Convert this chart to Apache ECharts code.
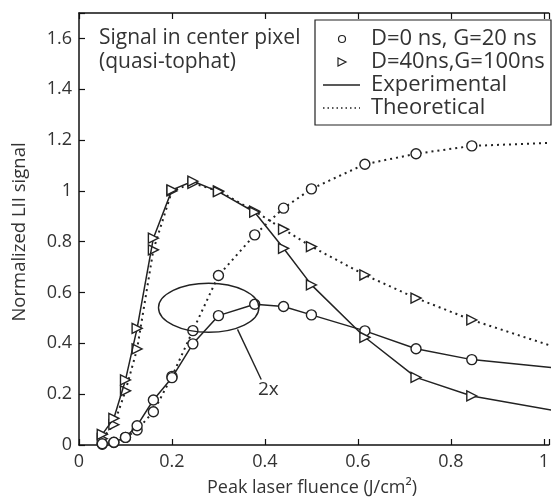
<!DOCTYPE html>
<html><head><meta charset="utf-8">
<script src="https://cdn.jsdelivr.net/npm/echarts@6/dist/echarts.min.js"></script>
<style>html,body{margin:0;padding:0;background:#fff}#c{width:552px;height:501px}</style>
</head><body><div id="c"></div>
<script>
// Data
const fluence    = [0.05, 0.075, 0.1, 0.125, 0.16, 0.2, 0.245, 0.3, 0.378, 0.44, 0.5, 0.615, 0.725, 0.845, 1.1];
const circleExp  = [0.005, 0.011, 0.03, 0.076, 0.177, 0.265, 0.398, 0.509, 0.554, 0.545, 0.512, 0.449, 0.379, 0.336, 0.29];
const circleTheo = [0.003, 0.01, 0.03, 0.059, 0.131, 0.27, 0.45, 0.667, 0.827, 0.932, 1.008, 1.105, 1.146, 1.177, 1.195];
const triExp     = [0.042, 0.105, 0.256, 0.459, 0.814, 1.004, 1.038, 0.997, 0.916, 0.774, 0.63, 0.424, 0.266, 0.193, 0.11];
const triTheo    = [0.025, 0.08, 0.213, 0.378, 0.768, 1.0, 1.03, 1.0, 0.92, 0.849, 0.781, 0.669, 0.578, 0.492, 0.34];
const xTicks = [0, 0.2, 0.4, 0.6, 0.8, 1];
const yTicks = [0, 0.2, 0.4, 0.6, 0.8, 1, 1.2, 1.4, 1.6];
const legendLabels = ['D=0 ns, G=20 ns', 'D=40ns,G=100ns', 'Experimental', 'Theoretical'];
const xName = 'Peak laser fluence (J/cm²)';
const yName = 'Normalized LII signal';
const noteText = 'Signal in center pixel\n(quasi-tophat)';
const calloutText = '2x';
// ellipse annotation in data units: [cx, cy, rx, ry]
const ellipseData = [0.279, 0.54, 0.108, 0.0965];
const leaderData = [[0.341, 0.455], [0.392, 0.258]];
const calloutPos = [0.385, 0.22];

const FONT = '"Open Sans", sans-serif';
const INK = '#222';
const pairs = ys => fluence.map((x, i) => [x, ys[i]]);

const chart = echarts.init(document.getElementById('c'), null, {renderer: 'canvas'});
const X_MAX = 1.0107; // the reference crops the plot just past x = 1
const axisCommon = {
  type: 'value', min: 0, max: X_MAX, interval: 0.2,
  axisLine: {show: true, lineStyle: {color: '#111', width: 1.5}},
  axisTick: {show: true, inside: true, length: 6, lineStyle: {color: '#111', width: 1.2}},
  splitLine: {show: false}
};
const circleSym = {symbol: 'circle', symbolSize: 10, itemStyle: {color: '#fff', borderColor: INK, borderWidth: 1.4}};
const triSym = {symbol: 'triangle', symbolSize: [10, 10], symbolRotate: -90, itemStyle: {color: '#fff', borderColor: INK, borderWidth: 1.4}};
const solid = {color: INK, width: 1.5, type: 'solid'};
const dotted = {color: INK, width: 2, type: [2, 4]};

chart.setOption({
  animation: false,
  grid: {left: 79, top: 13, right: 0, bottom: 56, containLabel: false},
  xAxis: [
    Object.assign({}, axisCommon, {position: 'bottom',
      axisLabel: {show: true, color: '#333', fontFamily: FONT, fontSize: 18, margin: 8,
        formatter: v => xTicks.some(t => Math.abs(t - v) < 1e-6) ? String(+v.toFixed(1)) : ''}}),
    Object.assign({}, axisCommon, {position: 'top', axisLabel: {show: false}})
  ],
  yAxis: [{
    type: 'value', min: 0, max: 1.7, interval: 0.2,
    axisLine: {show: true, lineStyle: {color: '#111', width: 1.5}},
    axisTick: {show: true, inside: true, length: 6, lineStyle: {color: '#111', width: 1.2}},
    splitLine: {show: false},
    axisLabel: {color: '#333', fontFamily: FONT, fontSize: 18, margin: 7,
      formatter: v => yTicks.some(t => Math.abs(t - v) < 1e-6) ? String(+v.toFixed(1)) : ''}
  }],
  series: [
    Object.assign({type: 'line', name: 'circTheo', data: pairs(circleTheo), lineStyle: dotted, z: 2}, circleSym),
    Object.assign({type: 'line', name: 'triTheo', data: pairs(triTheo), lineStyle: dotted, z: 2}, triSym),
    Object.assign({type: 'line', name: 'circExp', data: pairs(circleExp), lineStyle: solid, z: 3}, circleSym),
    Object.assign({type: 'line', name: 'triExp', data: pairs(triExp), lineStyle: solid, z: 3}, triSym)
  ]
});

const P = (x, y) => chart.convertToPixel({xAxisIndex: 0, yAxisIndex: 0}, [x, y]);
const c0 = P(ellipseData[0], ellipseData[1]);
const c1 = P(ellipseData[0] + ellipseData[2], ellipseData[1] + ellipseData[3]);
const l0 = P(leaderData[0][0], leaderData[0][1]);
const l1 = P(leaderData[1][0], leaderData[1][1]);
const cp = P(calloutPos[0], calloutPos[1]);

const legendX = 315, legendY = 20, rowH = 23;
const textStyle = (extra) => Object.assign({fontFamily: FONT, fill: '#333'}, extra);
const graphics = [
  {type: 'ellipse', shape: {cx: c0[0], cy: c0[1], rx: Math.abs(c1[0] - c0[0]), ry: Math.abs(c1[1] - c0[1])},
    style: {fill: 'none', stroke: INK, lineWidth: 1.4}, z: 10},
  {type: 'line', shape: {x1: l0[0], y1: l0[1], x2: l1[0], y2: l1[1]}, style: {stroke: INK, lineWidth: 1.4}, z: 10},
  {type: 'text', x: cp[0], y: cp[1], style: textStyle({text: calloutText, fontSize: 19, textAlign: 'left', textVerticalAlign: 'middle'}), z: 10},
  {type: 'text', x: 99, y: 26, style: textStyle({text: noteText, fontSize: 21, lineHeight: 24, textAlign: 'left', textVerticalAlign: 'top'}), z: 10},
  {type: 'text', x: 312, y: 488, style: textStyle({text: xName, fontSize: 18, textAlign: 'center', textVerticalAlign: 'middle'}), z: 10},
  {type: 'text', x: 20, y: 232, rotation: Math.PI / 2, style: textStyle({text: yName, fontSize: 18.5, textAlign: 'center', textVerticalAlign: 'middle'}), z: 10},
  // legend box
  {type: 'rect', shape: {x: legendX, y: legendY, width: 236, height: 105}, style: {fill: '#fff', stroke: '#222', lineWidth: 1.2}, z: 20},
  {type: 'circle', shape: {cx: 342, cy: legendY + 19, r: 3.5}, style: {fill: '#fff', stroke: INK, lineWidth: 1.2}, z: 21},
  {type: 'polygon', shape: {points: [[338, legendY + 42 - 4], [338, legendY + 42 + 4], [346, legendY + 42]]}, style: {fill: '#fff', stroke: INK, lineWidth: 1.2}, z: 21},
  {type: 'line', shape: {x1: 323, y1: legendY + 65, x2: 360, y2: legendY + 65}, style: {stroke: INK, lineWidth: 1.3}, z: 21},
  {type: 'line', shape: {x1: 323, y1: legendY + 88, x2: 360, y2: legendY + 88}, style: {stroke: INK, lineWidth: 1.5, lineDash: [1.5, 3]}, z: 21}
];
legendLabels.forEach((t, i) => {
  graphics.push({type: 'text', x: 371, y: legendY + 19 + i * rowH, style: textStyle({text: t, fontSize: 22, textAlign: 'left', textVerticalAlign: 'middle'}), z: 21});
});
chart.setOption({graphic: graphics});
</script></body></html>
